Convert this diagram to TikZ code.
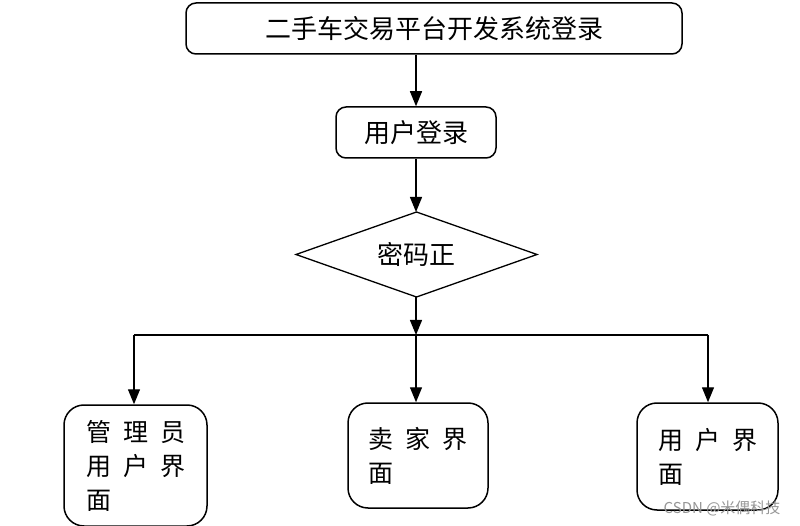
\documentclass[tikz,border=0pt]{standalone}
\usepackage{fontspec}
\usepackage{tikz}
\usetikzlibrary{positioning,calc,shapes.geometric,arrows.meta}
\newfontfamily\cjk{Noto Sans CJK SC}
\newcommand{\gp}{\hspace{12pt}}
\definecolor{markclr}{RGB}{150,150,150}
\tikzset{
  box/.style   = {draw, line width=1.5pt, rounded corners=10pt,
                  align=center, inner sep=0pt,
                  font=\cjk\fontsize{26}{30}\selectfont},
  page/.style  = {draw, line width=1.5pt, rounded corners=20pt,
                  align=left, inner sep=0pt,
                  font=\cjk\fontsize{25}{34}\selectfont},
  check/.style = {inner sep=0pt, outer sep=0pt,
                  minimum width=241pt, minimum height=85pt,
                  font=\cjk\fontsize{26}{30}\selectfont},
  arr/.style   = {-{Triangle[length=15pt,width=12pt]}, line width=1.3pt},
  ln/.style    = {line width=1.3pt},
}

\begin{document}
\begin{tikzpicture}[x=1pt,y=-1pt]
        \useasboundingbox (0,0) rectangle (800,526);
        % -- Login flow ------------------------------------------------
        \node[box, minimum width=496pt, minimum height=51pt]
            (sys) at (434,28.5) {二手车交易平台开发系统登录};
        \node[box, minimum width=160pt, minimum height=51pt]
            (login) at (416,132.5) {用户登录};
        \node[check] (pwd) at (416.5,254.5) {密码正};
        \draw[ln, line join=miter]
            (pwd.north) -- (pwd.east) -- (pwd.south) -- (pwd.west) -- cycle;

        \draw[arr] (sys.south -| login.north) -- (login.north);
        \draw[arr] (login.south) -- (login.south |- pwd.north);

        % -- Branch ----------------------------------------------------
        \coordinate (split) at (416,335);
        \coordinate (lt) at (134,335);
        \coordinate (rt) at (708,335);
        \draw[arr] (split |- pwd.south) -- (split);
        \draw[ln] (lt) -- (rt);

        % -- Pages (bottom) --------------------------------------------
        \node[page, minimum width=143pt, minimum height=121pt]
            (admin) at (135.5,465.5) {管\gp 理\gp 员\\用\gp 户\gp 界\\面};
        \node[page, minimum width=140pt, minimum height=105pt]
            (seller) at (418,455.5) {卖\gp 家\gp 界\\面};
        \node[page, minimum width=141pt, minimum height=107pt]
            (user) at (707.5,456.5) {用\gp 户\gp 界\\面};

        \draw[arr] (lt) -- (lt |- admin.north);
        \draw[arr] (split) -- (split |- seller.north);
        \draw[arr] (rt) -- (rt |- user.north);

        \node[text=markclr, font=\cjk\fontsize{15}{18}\selectfont,
            anchor=east] (mark) at (784,508) {CSDN @米偶科技};
    \end{tikzpicture}
\end{document}
